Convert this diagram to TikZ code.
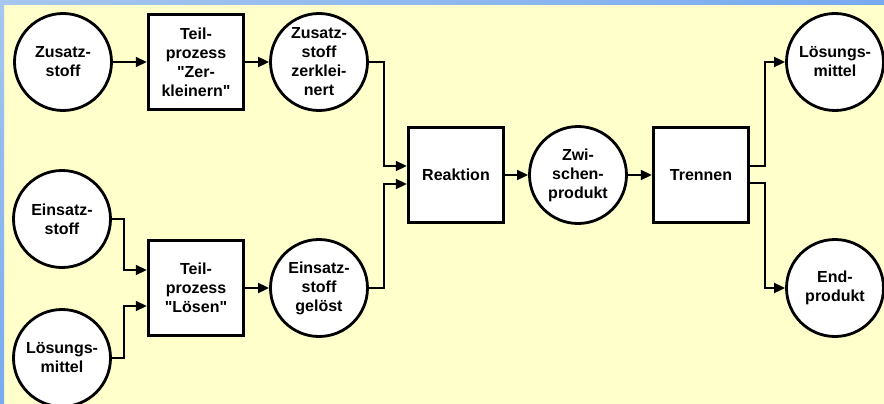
\documentclass[tikz,border=0pt]{standalone}
\usepackage{fontspec}
\setmainfont{Liberation Sans}[Ligatures=TeXOff]
\usetikzlibrary{arrows.meta,calc,positioning}
\definecolor{bggelb}{HTML}{FFFFCC}
\definecolor{randblau}{HTML}{A6C6EE}
\definecolor{randblaudunkel}{HTML}{78AAF0}
\definecolor{randrosa}{HTML}{F0E2F4}

\begin{document}
\begin{tikzpicture}[x=1pt,y=-1pt,
			stoff/.style={circle,draw,line width=2.8pt,fill=white,minimum size=97pt,inner sep=0pt,align=center},
			prozess/.style={rectangle,draw,line width=3.4pt,fill=white,minimum size=95pt,inner sep=0pt,align=center},
			fluss/.style={line width=1.8pt,-{Triangle[length=11pt,width=10pt]}},
			font=\fontsize{16}{19}\selectfont\bfseries]
\useasboundingbox (0,0) rectangle (884,404);
\fill[bggelb] (0,0) rectangle (884,404);
\shade[left color=randblau,middle color=randrosa,right color=randblaudunkel] (0,0) rectangle (884,5);
\shade[top color=randblau,bottom color=randblaudunkel] (0,5) rectangle (4,404);

\node[stoff] (zus) at (63,62) {Zusatz-\\stoff};
\node[prozess] (tz) at (196,62) {Teil-\\prozess\\"Zer-\\kleinern"};
\node[stoff] (zz) at (319,62) {Zusatz-\\stoff\\zerklei-\\nert};
\node[stoff] (ein) at (62,219) {Einsatz-\\stoff};
\node[stoff] (lm) at (62,358) {Lösungs-\\mittel};
\node[prozess] (tl) at (196,288) {Teil-\\prozess\\"Lösen"};
\node[stoff] (eg) at (319,288) {Einsatz-\\stoff\\gelöst};
\node[prozess] (re) at (456,175) {Reaktion};
\node[stoff] (zw) at (578,175) {Zwi-\\schen-\\produkt};
\node[prozess] (tr) at (701,175) {Trennen};
\node[stoff] (lm2) at (835,62) {Lösungs-\\mittel};
\node[stoff] (ep) at (835,288) {End-\\produkt};

\draw[fluss] (zus) -- (tz);
\draw[fluss] (tz) -- (zz);
\draw[fluss] (ein.east) -- ++(12,0) |- ($(tl.west)+(0,-18)$);
\draw[fluss] (lm.east) -- ++(12,0) |- ($(tl.west)+(0,18)$);
\draw[fluss] (tl) -- (eg);
% beide Zweige laufen in die Reaktion
\draw[fluss] (zz.east) -- ++(15,0) |- ($(re.west)+(0,-9)$);
\draw[fluss] (eg.east) -- ++(15,0) |- ($(re.west)+(0,9)$);
\draw[fluss] (re) -- (zw);
\draw[fluss] (zw) -- (tr);
\draw[fluss] ($(tr.east)+(0,-9)$) -- ++(15,0) |- (lm2);
\draw[fluss] ($(tr.east)+(0,8)$) -- ++(15,0) |- (ep);
\end{tikzpicture}
\end{document}
